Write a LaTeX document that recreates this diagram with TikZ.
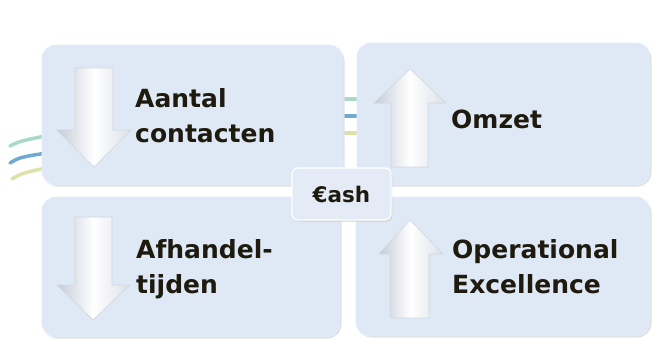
\documentclass[tikz,border=0pt]{standalone}
\usepackage{fontspec}
\setmainfont{DejaVu Sans}
\definecolor{boxfill}{HTML}{DFE9F6}
\definecolor{cashfill}{HTML}{E4EBF6}
\definecolor{txt}{HTML}{1E1A0E}
\definecolor{lteal}{HTML}{A9D9C9}
\definecolor{lblue}{HTML}{6FAAD2}
\definecolor{lyellow}{HTML}{DCE2A8}
\definecolor{arrowgray}{HTML}{C4CCD8}
\tikzset{
  panel/.style={fill=boxfill, draw=boxfill!85!white, line width=0.8pt, rounded corners=14pt,
    preaction={fill=black!12, rounded corners=14pt, transform canvas={xshift=1.5pt,yshift=-1.5pt}}},
  cashbox/.style={fill=cashfill, draw=white, line width=1.2pt, rounded corners=6pt,
    preaction={fill=black!18, rounded corners=6pt, transform canvas={xshift=1.2pt,yshift=-1.5pt}}},
  lbl/.style={font=\bfseries\fontsize{25}{30}\selectfont, text=txt, inner sep=0pt, anchor=base west},
  cashlbl/.style={font=\bfseries\fontsize{21.5}{26}\selectfont, text=txt, inner sep=0pt},
  bigarrow/.style={left color=arrowgray, right color=arrowgray!60!white, middle color=white,
    draw=arrowgray!80!white, line width=0.6pt, line join=round},
  bgline/.style={line width=3.5pt, line cap=round}
}
\begin{document}
\begin{tikzpicture}[x=1pt,y=-1pt]
\useasboundingbox (0,0) rectangle (652,338);
% background lines
\draw[bgline, lteal]   (10,146) .. controls (20,141) .. (60,133);
\draw[bgline, lblue]   (10,163) .. controls (20,157) .. (60,151);
\draw[bgline, lyellow] (12,179) .. controls (22,173) .. (60,165);
\draw[line width=3.5pt, lteal]   (330,99) -- (370,99);
\draw[line width=3.5pt, lblue]   (330,116) -- (370,116);
\draw[line width=3.5pt, lyellow] (330,133) -- (370,133);
% panels
\node[panel, minimum width=301pt, minimum height=140pt] (tl) at (192.5,115) {};
\node[panel, minimum width=293pt, minimum height=142pt] (tr) at (503.5,114) {};
\node[panel, minimum width=298pt, minimum height=140pt] (bl) at (191,267) {};
\node[panel, minimum width=294pt, minimum height=139pt] (br) at (503,266.5) {};
% arrows
\begin{scope}[shift={(75,68)}]
  \path[bigarrow] (0,0) -- (38,0) -- (38,62) -- (56,62) -- (19,99) -- (-18,62) -- (0,62) -- cycle;
\end{scope}
\begin{scope}[shift={(75,217)}]
  \path[bigarrow] (0,0) -- (37,0) -- (37,68) -- (55,68) -- (18,103) -- (-18,68) -- (0,68) -- cycle;
\end{scope}
\begin{scope}[shift={(410,69)}]
  \path[bigarrow] (0,0) -- (36,34) -- (18,34) -- (18,98) -- (-19,98) -- (-19,34) -- (-36,34) -- cycle;
\end{scope}
\begin{scope}[shift={(410,220)}]
  \path[bigarrow] (0,0) -- (33,34) -- (19,34) -- (19,98) -- (-20,98) -- (-20,34) -- (-31,34) -- cycle;
\end{scope}
% labels
\node[lbl] (t1a) at (135,107) {Aantal};
\node[lbl] (t1b) at (135,142) {contacten};
\node[lbl] (t2) at (451,128) {Omzet};
\node[lbl] (t3a) at (136,258) {Afhandel-};
\node[lbl] (t3b) at (136,293) {tijden};
\node[lbl] (t4a) at (452,258) {Operational};
\node[lbl] (t4b) at (452,293) {Excellence};
% cash
\node[cashbox, minimum width=99pt, minimum height=52pt] (cash) at (341.5,194) {};
\node[cashlbl] (cashtxt) at (cash.center) {€ash};
\end{tikzpicture}
\end{document}
